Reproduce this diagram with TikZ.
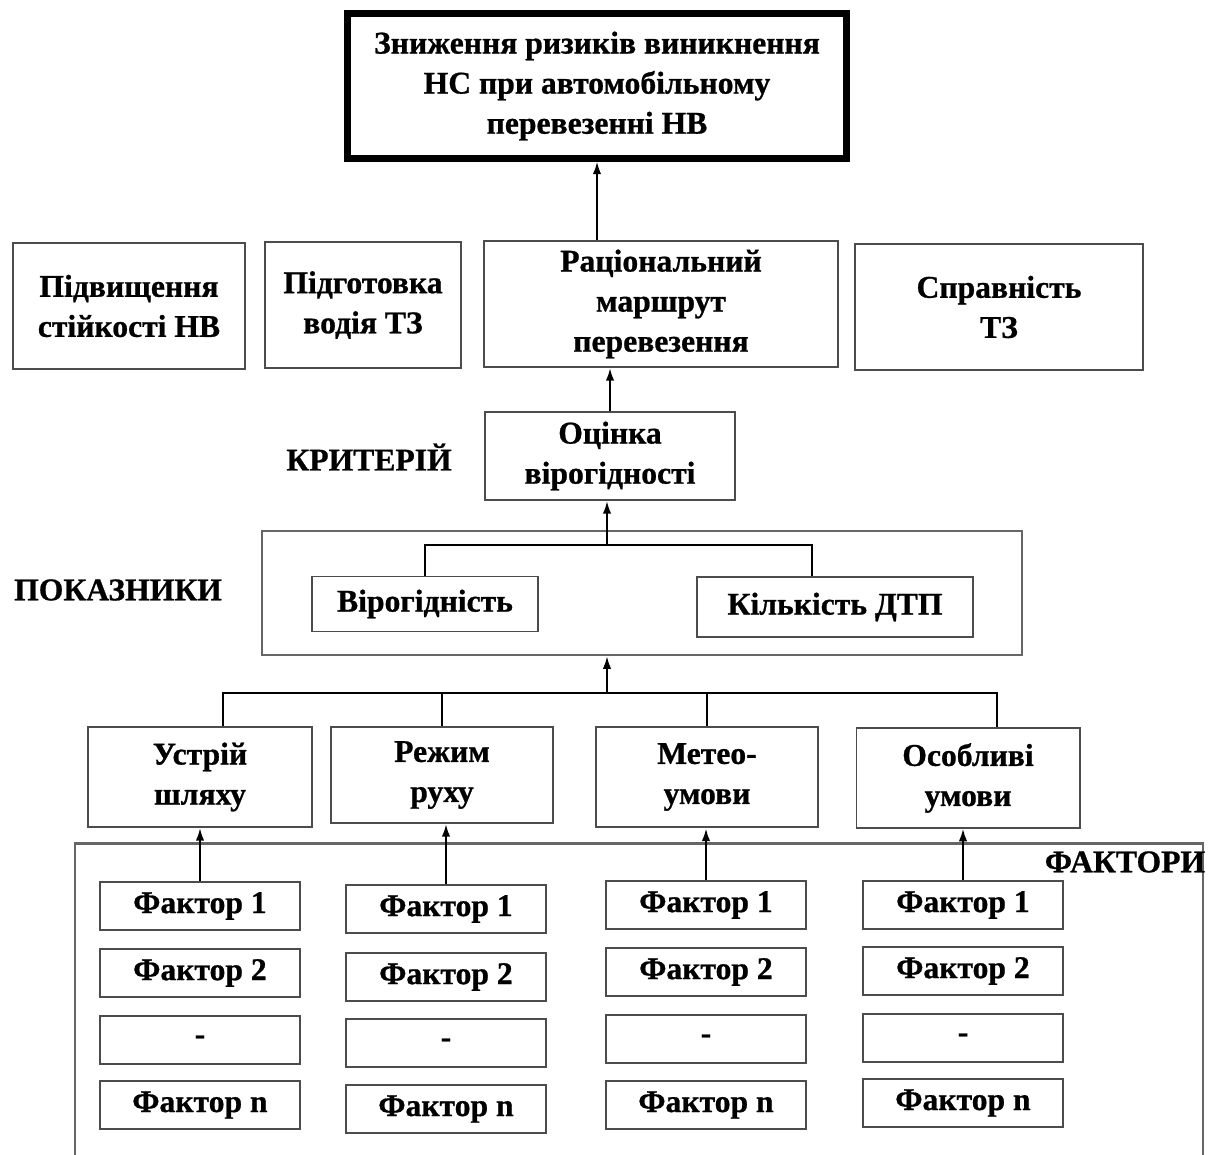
\documentclass[tikz,border=0pt]{standalone}
\usepackage{fontspec}
\setmainfont{Liberation Serif}[BoldFeatures={FakeBold=0.8}]
\usetikzlibrary{arrows.meta}
\newcommand{\lblfont}{\bfseries\fontsize{22.5}{28.5}\selectfont}

\begin{document}
\begin{tikzpicture}
[x=0.025cm, y=-0.025cm, >={Latex[length=9pt,width=6pt]},
 box/.style={draw=black!70, line width=1.4pt, align=center, inner sep=1mm, font=\lblfont},
 goalbox/.style={draw, line width=5pt, align=center, inner sep=1mm, font=\lblfont},
 factor/.style={box, minimum width=5cm, minimum height=1.2cm},
 frame/.style={draw=black!60, line width=1.6pt},
 title/.style={font=\lblfont},
 link/.style={line width=1.5pt}]
\useasboundingbox (0,0) rectangle (1208,1155);

\node (goal) at (597,86) [goalbox, minimum width=12.45cm, minimum height=3.6cm]
  {Зниження ризиків виникнення\\НС при автомобільному\\перевезенні НВ};

\node (stab) at (129,306) [box, minimum width=5.8cm, minimum height=3.15cm] {Підвищення\\стійкості НВ};
\node (drv) at (363,305) [box, minimum width=4.9cm, minimum height=3.15cm] {Підготовка\\водія ТЗ};
\node (route) at (661,304) [box, minimum width=8.85cm, minimum height=3.15cm] {Раціональний\\маршрут\\перевезення};
\node (tech) at (999,307) [box, minimum width=7.2cm, minimum height=3.15cm] {Справність\\ТЗ};

\node (est) at (610,456) [box, minimum width=6.25cm, minimum height=2.2cm] {Оцінка\\вірогідності};
\node (crit) at (369,457) [title] {КРИТЕРІЙ};

\node (ind) at (118,590) [title] {ПОКАЗНИКИ};
\node (indbox) at (642,593) [frame, minimum width=19cm, minimum height=3.1cm] {};
\node (reli) at (425,604) [box, minimum width=5.65cm, minimum height=1.375cm] {Вірогідність};
\node (acc) at (835,607) [box, minimum width=6.875cm, minimum height=1.5cm] {Кількість ДТП};
\coordinate (jn) at (607,545);

\node (road) at (200,777) [box, minimum width=5.575cm, minimum height=2.5cm] {Устрій\\шляху};
\node (mode) at (442,775) [box, minimum width=5.525cm, minimum height=2.4cm] {Режим\\руху};
\node (meteo) at (707,777) [box, minimum width=5.55cm, minimum height=2.52cm] {Метео-\\умови};
\node (spec) at (968,778) [box, minimum width=5.575cm, minimum height=2.48cm] {Особливі\\умови};
\coordinate (hub) at (607,693);

\node (facts) at (639,1012) [frame, minimum width=28.2cm, minimum height=8.425cm] {};
\node (factlbl) at (1125,862) [title] {ФАКТОРИ};

\node (f11) at (200,906) [factor] {Фактор 1};
\node (f12) at (200,973) [factor] {Фактор 2};
\node (f13) at (200,1040) [factor] {-};
\node (f1n) at (200,1105) [factor] {Фактор n};

\node (f21) at (446,909) [factor] {Фактор 1};
\node (f22) at (446,977) [factor] {Фактор 2};
\node (f23) at (446,1043) [factor] {-};
\node (f2n) at (446,1109) [factor] {Фактор n};

\node (f31) at (706,905) [factor] {Фактор 1};
\node (f32) at (706,972) [factor] {Фактор 2};
\node (f33) at (706,1039) [factor] {-};
\node (f3n) at (706,1105) [factor] {Фактор n};

\node (f41) at (963,905) [factor] {Фактор 1};
\node (f42) at (963,971) [factor] {Фактор 2};
\node (f43) at (963,1038) [factor] {-};
\node (f4n) at (963,1103) [factor] {Фактор n};

\draw[->,link] (goal.south |- route.north) to (goal.south);
\draw[->,link] (est.north) to (est.north |- route.south);

\draw[->,link] (jn) to (jn |- est.south);
\draw[link] (reli.north) |- (jn);
\draw[link] (jn) -| ([xshift=-0.575cm]acc.north);

\draw[->,link] (hub) to (hub |- indbox.south);
\draw[link] (hub) -| ([xshift=0.575cm]road.north);
\draw[link] (hub) -| (mode.north);
\draw[link] (hub) -| (meteo.north);
\draw[link] (hub) -| ([xshift=0.725cm]spec.north);

\draw[->,link] (f11.north) to (f11.north |- road.south);
\draw[->,link] (f21.north) to (f21.north |- mode.south);
\draw[->,link] (f31.north) to (f31.north |- meteo.south);
\draw[->,link] (f41.north) to (f41.north |- spec.south);
\end{tikzpicture}
\end{document}
